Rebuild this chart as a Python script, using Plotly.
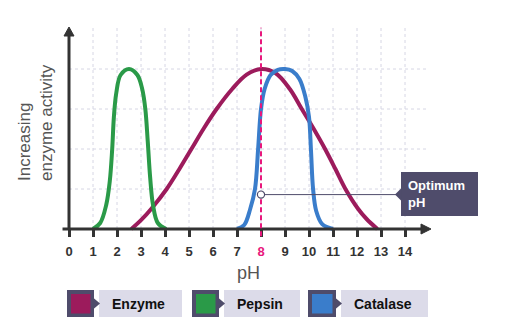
import plotly.graph_objects as go

# ---------------- data ----------------
series_names = ["Enzyme", "Pepsin", "Catalase"]
series_colors = ["#9c1b5c", "#2a9a48", "#3a7dcb"]

enzyme_ph = [2.6, 3.0, 3.45, 4.07, 4.6, 5.1, 5.62, 6.15, 6.8, 7.4, 8.0, 8.6, 9.2, 9.7, 10.2, 10.67, 11.1, 11.5, 12.05, 12.4, 12.85]
enzyme_act = [0.0, 0.22, 0.52, 1.0, 1.5, 2.0, 2.52, 3.0, 3.5, 3.86, 4.0, 3.9, 3.5, 3.0, 2.5, 2.0, 1.5, 1.02, 0.5, 0.25, 0.0]

pepsin_ph = [1.0, 1.3, 1.55, 1.7, 1.8, 1.87, 1.97, 2.15, 2.5, 2.85, 3.05, 3.18, 3.28, 3.38, 3.5, 3.7, 4.05]
pepsin_act = [0.0, 0.15, 0.6, 1.2, 2.0, 2.8, 3.4, 3.85, 4.0, 3.85, 3.5, 3.0, 2.2, 1.3, 0.6, 0.15, 0.0]

catalase_ph = [7.0, 7.3, 7.55, 7.75, 7.88, 8.0, 8.15, 8.4, 8.7, 9.0, 9.3, 9.6, 9.85, 10.0, 10.08, 10.17, 10.3, 10.55, 11.0]
catalase_act = [0.0, 0.1, 0.5, 1.0, 2.0, 3.0, 3.5, 3.85, 3.98, 4.0, 3.95, 3.75, 3.3, 2.8, 2.0, 1.0, 0.45, 0.12, 0.0]

ph_ticks = list(range(0, 15))
activity_grid = [1, 2, 3, 4]
optimum_ph = 8
optimum_marker_y = 0.86
optimum_label = "Optimum<br>pH"
x_title = "pH"
y_title = "Increasing<br>enzyme activity"

# ---------------- layout geometry ----------------
W, H = 508, 336
L, R, T, B = 62, 440, 20, 240          # plot area in pixels
XMIN, XMAX = -7 / 24, (R - 69) / 24
YMIN, YMAX = -11 / 40, (229 - T) / 40


def px(x):
    return (x - L) / (R - L)


def py(y):
    return (B - y) / (B - T)


AXIS = "#333333"
GRID = "#d6d6e4"
PINK = "#e8177c"
DARK = "#4f4c6b"
LIGHT = "#dcdbe9"
FONT = "Liberation Sans, Arial"

fig = go.Figure()

# grid
shapes = []
for v in ph_ticks[1:]:
    shapes.append(dict(type="line", xref="x", yref="y", x0=v, x1=v, y0=0, y1=5.03,
                       line=dict(color=GRID, width=1, dash="dot"), layer="below"))
for v in activity_grid:
    shapes.append(dict(type="line", xref="x", yref="y", x0=0, x1=15.0, y0=v, y1=v,
                       line=dict(color=GRID, width=1, dash="dot"), layer="below"))

for name, xs, ys, c in zip(series_names, [enzyme_ph, pepsin_ph, catalase_ph],
                           [enzyme_act, pepsin_act, catalase_act], series_colors):
    fig.add_trace(go.Scatter(x=xs, y=ys, mode="lines", name=name,
                             line=dict(color=c, width=4, shape="spline", smoothing=1.0),
                             hoverinfo="skip", showlegend=False))

# axes lines with arrows
shapes.append(dict(type="line", xref="x", yref="y", x0=-0.27, x1=14.75, y0=0, y1=0,
                   line=dict(color=AXIS, width=3)))
shapes.append(dict(type="line", xref="x", yref="y", x0=0, x1=0, y0=-0.02, y1=4.85,
                   line=dict(color=AXIS, width=3)))
shapes.append(dict(type="path", xref="paper", yref="paper",
                   path=f"M {px(421)},{py(224)} L {px(431)},{py(229)} L {px(421)},{py(234)} Z",
                   fillcolor=AXIS, line=dict(color=AXIS, width=1)))
shapes.append(dict(type="path", xref="paper", yref="paper",
                   path=f"M {px(64)},{py(36)} L {px(69)},{py(27)} L {px(74)},{py(36)} Z",
                   fillcolor=AXIS, line=dict(color=AXIS, width=1)))

# optimum dashed line
shapes.append(dict(type="line", xref="x", yref="y", x0=optimum_ph, x1=optimum_ph, y0=-0.18, y1=5.03,
                   line=dict(color=PINK, width=2, dash="5px,3px")))

# optimum connector line + label box
shapes.append(dict(type="line", xref="x", yref="y", x0=optimum_ph, x1=(396 - 69) / 24,
                   y0=optimum_marker_y, y1=optimum_marker_y, line=dict(color=DARK, width=1)))
shapes.append(dict(type="rect", xref="paper", yref="paper", x0=px(401), x1=px(478), y0=py(172), y1=py(216),
                   fillcolor=DARK, line=dict(width=0)))
shapes.append(dict(type="path", xref="paper", yref="paper",
                   path=f"M {px(401.5)},{py(188)} L {px(395)},{py(194.5)} L {px(401.5)},{py(201)} Z",
                   fillcolor=DARK, line=dict(width=0)))
# marker circle on top of the dashed line (centered on the optimum point)
cx = 69 + optimum_ph * 24
cy = 229 - optimum_marker_y * 40
shapes.append(dict(type="circle", xref="paper", yref="paper",
                   x0=px(cx - 3.6), x1=px(cx + 3.6), y0=py(cy + 3.6), y1=py(cy - 3.6),
                   fillcolor="white", line=dict(color=DARK, width=1.2)))

annotations = [
    dict(xref="paper", yref="paper", x=px(406), y=py(194), text=f"<b>{optimum_label}</b>",
         showarrow=False, xanchor="left", yanchor="middle", align="left",
         font=dict(family=FONT, size=13, color="white")),
    dict(xref="paper", yref="paper", x=px(248), y=py(273), text=x_title, showarrow=False,
         xanchor="center", yanchor="middle",
         font=dict(family=FONT, size=18, color="#555555")),
    dict(xref="paper", yref="paper", x=px(36), y=py(123), text=y_title, showarrow=False,
         textangle=-90, xanchor="center", yanchor="middle", align="left",
         font=dict(family=FONT, size=17, color="#555555")),
]

# custom legend
legend_boxes = [(67, 94, 99, 182), (192, 219, 224, 300), (308, 336, 341, 428)]
for name, c, (d0, d1, l0, l1) in zip(series_names, series_colors, legend_boxes):
    shapes.append(dict(type="rect", xref="paper", yref="paper", x0=px(l0), x1=px(l1), y0=py(290), y1=py(317),
                       fillcolor=LIGHT, line=dict(width=0)))
    shapes.append(dict(type="rect", xref="paper", yref="paper", x0=px(d0), x1=px(d1), y0=py(290), y1=py(317),
                       fillcolor=DARK, line=dict(width=0)))
    shapes.append(dict(type="path", xref="paper", yref="paper",
                       path=f"M {px(d1 - 0.5)},{py(298)} L {px(d1 + 6)},{py(303.5)} L {px(d1 - 0.5)},{py(309)} Z",
                       fillcolor=DARK, line=dict(width=0)))
    shapes.append(dict(type="rect", xref="paper", yref="paper", x0=px(d0 + 4), x1=px(d1 - 3.5),
                       y0=py(294), y1=py(313.5), fillcolor=c, line=dict(width=0)))
    annotations.append(dict(xref="paper", yref="paper", x=px((l0 + l1) / 2 - 2), y=py(303.5),
                            text=f"<b>{name}</b>", showarrow=False, xanchor="center", yanchor="middle",
                            font=dict(family=FONT, size=14, color="#111111")))

tick_text = [f"<span style='color:{PINK}'>{v}</span>" if v == optimum_ph else str(v) for v in ph_ticks]
tick_text = [f"<b>{t}</b>" for t in tick_text]

fig.update_layout(
    width=W, height=H,
    margin=dict(l=L, r=W - R, t=T, b=H - B),
    paper_bgcolor="white", plot_bgcolor="white",
    shapes=shapes, annotations=annotations,
    showlegend=False,
    xaxis=dict(range=[XMIN, XMAX], showgrid=False, zeroline=False, showline=False,
               tickmode="array", tickvals=ph_ticks, ticktext=tick_text,
               ticks="outside", ticklen=7, tickwidth=2.5, tickcolor=AXIS,
               ticklabelstandoff=3,
               anchor="free", position=(0 - YMIN) / (YMAX - YMIN),
               tickfont=dict(family=FONT, size=13, color="#333333"),
               fixedrange=True),
    yaxis=dict(range=[YMIN, YMAX], showgrid=False, zeroline=False, showline=False,
               showticklabels=False, ticks="", fixedrange=True),
)

fig.write_html("out.html")
